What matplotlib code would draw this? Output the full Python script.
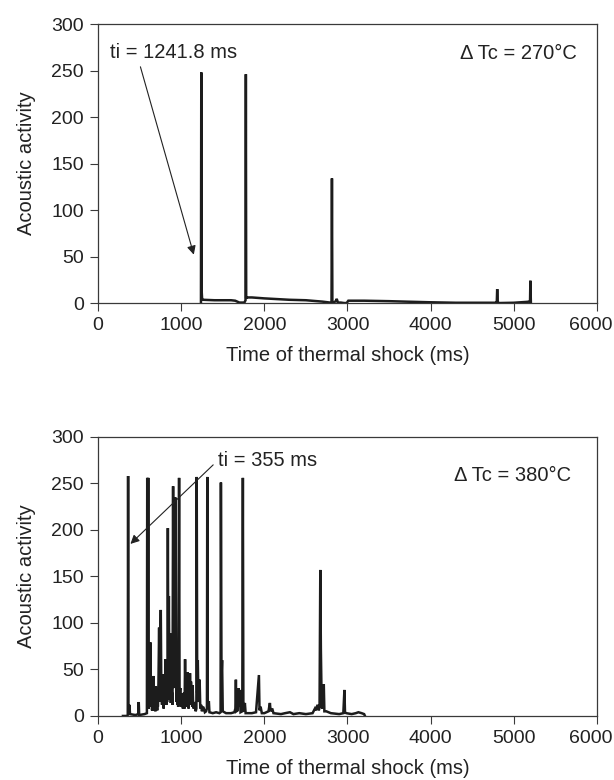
import matplotlib
matplotlib.use('Agg')
import matplotlib.pyplot as plt
import matplotlib.transforms as mtransforms

plt.rcParams['font.family'] = ['Liberation Sans', 'DejaVu Sans']
plt.rcParams['font.size'] = 14

# dT = 270 C run: time (ms) / acoustic activity
top_t = [1238, 1242, 1246, 1252, 1262, 1400, 1600, 1650, 1700, 1760, 1774, 1778,
         1782, 1790, 1850, 2000, 2300, 2500, 2700, 2790, 2808, 2813, 2818, 2830,
         2860, 2870, 2885, 2920, 2960, 2990, 3010, 3200, 3500, 3700, 4000, 4300,
         4780, 4795, 4800, 4806, 4830, 5000, 5150, 5185, 5195, 5199, 5205]
top_v = [0, 248, 14, 4, 3.5, 3, 3, 2.5, 0.5, 0.5, 3, 246,
         5, 6, 6, 5, 3.5, 3, 1.5, 0.5, 1, 134, 2, 0.5,
         2, 4.5, 0.5, 0.5, 0, 0, 2.5, 2.5, 2, 1.5, 0.8, 0.3,
         0.3, 0.5, 15, 0.5, 0, 0.3, 1.2, 1.5, 2, 24, 0.5]

# dT = 380 C run
bot_t = [300, 355, 358, 362, 366, 378, 385, 450, 485, 490, 495, 560,
         588, 592, 598, 604, 610, 617, 625, 631, 637, 643, 650, 655, 660, 668, 675,
         682, 690, 695, 700, 706, 712, 716, 720, 727, 735, 742, 748, 755, 762, 766,
         770, 777, 783, 789, 795, 800, 805, 811, 818, 822, 826, 830, 835, 840, 846,
         852, 858, 862, 866, 872, 876, 880, 885, 890, 896, 903, 909, 915, 922, 929,
         935, 941, 945, 950, 955, 960, 964, 968, 975, 981, 986, 990, 997, 1005,
         1010, 1016, 1020, 1025, 1030, 1035, 1041, 1047, 1053, 1058, 1062, 1069,
         1076, 1083, 1089, 1095, 1101, 1106, 1112, 1118, 1126, 1133, 1138, 1144,
         1150, 1158, 1166, 1175, 1183, 1187, 1193, 1200, 1208, 1215, 1222, 1230,
         1240, 1250, 1262, 1273, 1285, 1300, 1310, 1314, 1320, 1333,
         1340, 1380, 1420, 1460, 1474, 1478, 1485, 1492, 1500, 1540, 1600, 1640,
         1652, 1658, 1664, 1680, 1687, 1694, 1707, 1714, 1735, 1742, 1748, 1756,
         1766, 1775, 1850, 1900, 1935, 1942, 1955, 1970, 2000, 2050, 2067, 2075,
         2095, 2110, 2200, 2250, 2308, 2350, 2420, 2500, 2580, 2609, 2620, 2640,
         2655, 2664, 2673, 2680, 2690, 2700, 2715, 2722, 2745, 2800, 2900, 2950,
         2963, 2970, 2985, 3050, 3100, 3131, 3170, 3200, 3210]
bot_v = [0, 0, 2, 258, 3, 12, 2, 1, 2, 15, 1, 2,
         3, 256, 20, 256, 8, 25, 12, 79, 10, 28, 6, 20, 6, 43, 12,
         30, 5, 32, 8, 22, 6, 25, 10, 35, 95, 15, 60, 114, 20, 38,
         12, 45, 26, 8, 40, 18, 15, 61, 30, 12, 50, 15, 20, 202, 25,
         129, 40, 18, 89, 30, 14, 55, 20, 25, 12, 247, 60, 30, 45, 235,
         212, 40, 15, 30, 12, 20, 10, 25, 256, 15, 28, 30, 10, 12,
         24, 17, 8, 10, 20, 25, 8, 61, 15, 28, 30, 10,
         47, 20, 8, 25, 12, 46, 20, 37, 26, 10, 33, 12,
         8, 15, 10, 5, 8, 257, 25, 60, 15, 22, 39, 8,
         12, 5, 10, 8, 4, 5, 8, 257, 10, 16,
         4, 3, 4, 3, 4, 251, 40, 60, 5, 3, 3, 4,
         8, 39, 5, 6, 30, 10, 28, 4, 5, 256, 15, 5,
         14, 3, 3, 4, 44, 6, 10, 3, 3, 5, 14, 5,
         8, 3, 2, 3, 4, 2, 3, 2, 3, 8, 6, 12,
         6, 9, 157, 71, 10, 8, 34, 5, 5, 3, 2, 3,
         28, 4, 3, 2, 3, 4, 3, 2, 0]

line_col = '#1c1c1c'
axis_col = '#3a3a3a'


def style_axes(ax):
    ax.set_xlim(0, 6000)
    ax.set_ylim(0, 300)
    ax.set_xticks(range(0, 6001, 1000))
    ax.set_yticks(range(0, 301, 50))
    ax.tick_params(direction='out', length=6, width=0.8, pad=4,
                   color=axis_col, labelcolor='#222222', labelsize=14)
    for sp in ax.spines.values():
        sp.set_color(axis_col)
        sp.set_linewidth(0.9)
    ax.set_xlabel('Time of thermal shock (ms)', color='#222222', labelpad=9,
                  fontsize=14.5)
    ax.set_ylabel('Acoustic activity', color='#222222', labelpad=11,
                  fontsize=14.5)
    # last tick label sits at the figure edge, nudge it in a little
    last = ax.get_xticklabels()[-1]
    last.set_transform(last.get_transform() +
                       mtransforms.ScaledTranslation(-6 / 100, 0,
                                                     ax.figure.dpi_scale_trans))


fig = plt.figure(figsize=(6.14, 7.8), dpi=100)
ax1 = fig.add_axes([0.1596, 0.6115, 0.8127, 0.3577])
ax2 = fig.add_axes([0.1596, 0.0821, 0.8127, 0.3577])

arrow = dict(arrowstyle='-|>', lw=0.8, color='#222222', mutation_scale=13,
             shrinkA=0, shrinkB=0)

# top panel
ax1.plot(top_t, top_v, color=line_col, lw=1.8, solid_joinstyle='miter')
style_axes(ax1)
ax1.text(145, 269, 'ti = 1241.8 ms', va='center', ha='left', color='#222222',
         fontsize=14.5)
ax1.annotate('', xy=(1152, 52), xytext=(510, 254), arrowprops=arrow)
ax1.text(5757, 268, '\u0394 Tc = 270\u00b0C', va='center', ha='right',
         color='#222222', fontsize=14.5)

# bottom panel
ax2.plot(bot_t, bot_v, color=line_col, lw=1.8, solid_joinstyle='miter')
style_axes(ax2)
ax2.text(1441, 275, 'ti = 355 ms', va='center', ha='left', color='#222222',
         fontsize=14.5)
ax2.annotate('', xy=(390, 185), xytext=(1385, 270), arrowprops=arrow)
ax2.text(5690, 259, '\u0394 Tc = 380\u00b0C', va='center', ha='right',
         color='#222222', fontsize=14.5)

plt.savefig('out.png', dpi=100)
